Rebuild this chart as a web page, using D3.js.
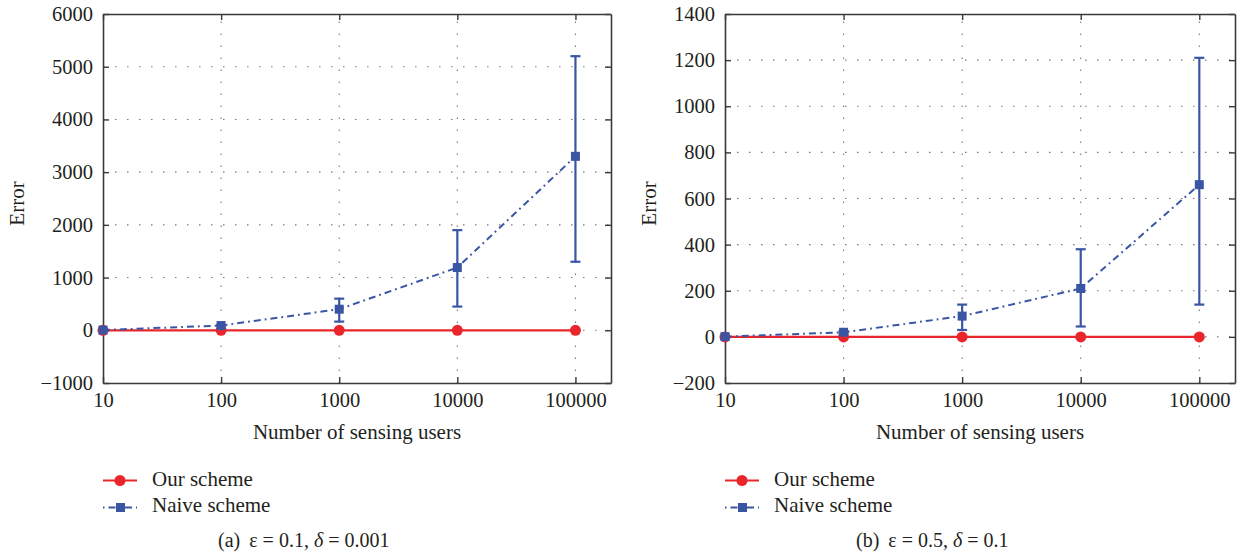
<!DOCTYPE html>
<html>
<head>
<meta charset="utf-8">
<script src="https://cdn.jsdelivr.net/npm/d3@7"></script>
<style>
  body { margin: 0; background: #fff; }
  svg text { font-family: "Liberation Serif", "Times New Roman", serif; fill: #231f20; }
</style>
</head>
<body>
<script>
'use strict';

// x positions (number of sensing users)
const users = [10, 100, 1000, 10000, 100000];

// panel (a) eps = 0.1, delta = 0.001
const ourA = [0, 0, 0, 0, 0];
const naiveA = [5, 90, 400, 1190, 3300];
const naiveLowA = [5, 80, 165, 450, 1300];
const naiveHighA = [5, 100, 600, 1900, 5200];
const yTicksA = [-1000, 0, 1000, 2000, 3000, 4000, 5000, 6000];

// panel (b) eps = 0.5, delta = 0.1
const ourB = [0, 0, 0, 0, 0];
const naiveB = [1, 20, 90, 210, 660];
const naiveLowB = [1, 15, 30, 45, 140];
const naiveHighB = [1, 25, 140, 380, 1210];
const yTicksB = [-200, 0, 200, 400, 600, 800, 1000, 1200, 1400];

const red = "#e8262b";
const blue = "#3a55a4";
const fontSize = "21px";

let svg = d3.select("body").append("svg")
  .attr("width", 1244)
  .attr("height", 556);

drawPanel({
  left: 103, right: 611, top: 14, bottom: 383,
  our: ourA, naive: naiveA, low: naiveLowA, high: naiveHighA,
  yTicks: yTicksA, yLabelX: 18, caption: ["(a)", "0.1", "0.001"], captionX: 218
});

drawPanel({
  left: 725, right: 1235, top: 14, bottom: 383,
  our: ourB, naive: naiveB, low: naiveLowB, high: naiveHighB,
  yTicks: yTicksB, yLabelX: 650, caption: ["(b)", "0.5", "0.1"], captionX: 856
});

function fmt(d) {
  return d < 0 ? "\u2212" + Math.abs(d) : String(d);
}

function drawPanel(p) {
  let g = svg.append("g");

  let x = d3.scaleLog()
    .domain([10, 200000])
    .range([p.left, p.right]);

  let y = d3.scaleLinear()
    .domain([p.yTicks[0], p.yTicks[p.yTicks.length - 1]])
    .range([p.bottom, p.top]);

  // dotted grid
  g.selectAll(".hgrid")
    .data(p.yTicks.slice(1, -1))
    .enter().append("line")
    .attr("x1", p.left).attr("x2", p.right)
    .attr("y1", d => y(d)).attr("y2", d => y(d))
    .attr("stroke", "#777")
    .attr("stroke-width", 1.1)
    .attr("stroke-dasharray", "1.5,10.5");

  g.selectAll(".vgrid")
    .data(users.slice(1))
    .enter().append("line")
    .attr("x1", d => x(d)).attr("x2", d => x(d))
    .attr("y1", p.bottom).attr("y2", p.top)
    .attr("stroke", "#777")
    .attr("stroke-width", 1.1)
    .attr("stroke-dasharray", "1.5,10.5");

  // axes with inward ticks
  let xAxis = d3.axisBottom(x)
    .tickValues(users)
    .tickFormat(d3.format("d"))
    .tickSizeInner(-6)
    .tickSizeOuter(0)
    .tickPadding(9);
  let xg = g.append("g")
    .attr("transform", "translate(0," + p.bottom + ")")
    .call(xAxis);

  let xTop = d3.axisTop(x)
    .tickValues(users)
    .tickFormat("")
    .tickSizeInner(-6)
    .tickSizeOuter(0);
  let xtg = g.append("g")
    .attr("transform", "translate(0," + p.top + ")")
    .call(xTop);

  let yAxis = d3.axisLeft(y)
    .tickValues(p.yTicks)
    .tickFormat(fmt)
    .tickSizeInner(-6)
    .tickSizeOuter(0)
    .tickPadding(10);
  let yg = g.append("g")
    .attr("transform", "translate(" + p.left + ",0)")
    .call(yAxis);

  let yRight = d3.axisRight(y)
    .tickValues(p.yTicks)
    .tickFormat("")
    .tickSizeInner(-6)
    .tickSizeOuter(0);
  let yrg = g.append("g")
    .attr("transform", "translate(" + p.right + ",0)")
    .call(yRight);

  [xg, xtg, yg, yrg].forEach(a => {
    a.select(".domain").attr("stroke", "#3a3a3a").attr("stroke-width", 1.6);
    a.selectAll(".tick line").attr("stroke", "#3a3a3a").attr("stroke-width", 1.4);
    a.selectAll(".tick text")
      .style("font-family", "'Liberation Serif', serif")
      .style("font-size", "20.5px")
      .attr("fill", "#231f20");
  });

  // error bars for naive scheme
  let capW = 5;
  users.forEach((u, i) => {
    if (p.high[i] - p.low[i] < 15 * (p.yTicks[1] - p.yTicks[0]) / 1000) return;
    let cx = x(u);
    g.append("line")
      .attr("x1", cx).attr("x2", cx)
      .attr("y1", y(p.low[i])).attr("y2", y(p.high[i]))
      .attr("stroke", blue).attr("stroke-width", 2.2);
    [p.low[i], p.high[i]].forEach(v => {
      g.append("line")
        .attr("x1", cx - capW).attr("x2", cx + capW)
        .attr("y1", y(v)).attr("y2", y(v))
        .attr("stroke", blue).attr("stroke-width", 2.2);
    });
  });

  let line = d3.line()
    .x((d, i) => x(users[i]))
    .y(d => y(d));

  // our scheme
  g.append("path")
    .datum(p.our)
    .attr("d", line)
    .attr("fill", "none")
    .attr("stroke", red)
    .attr("stroke-width", 2.2);

  g.selectAll(".ourDot")
    .data(p.our)
    .enter().append("circle")
    .attr("cx", (d, i) => x(users[i]))
    .attr("cy", d => y(d))
    .attr("r", 5.5)
    .attr("fill", red);

  // naive scheme
  g.append("path")
    .datum(p.naive)
    .attr("d", line)
    .attr("fill", "none")
    .attr("stroke", blue)
    .attr("stroke-width", 2)
    .attr("stroke-dasharray", "7,4,1.8,4");

  g.selectAll(".naiveSq")
    .data(p.naive)
    .enter().append("rect")
    .attr("x", (d, i) => x(users[i]) - 4.5)
    .attr("y", d => y(d) - 4.5)
    .attr("width", 9)
    .attr("height", 9)
    .attr("fill", blue);

  // axis titles
  g.append("text")
    .attr("transform", "translate(" + (p.yLabelX + 6) + "," + ((p.top + p.bottom) / 2 + 5) + ")rotate(-90)")
    .attr("text-anchor", "middle")
    .style("font-size", fontSize)
    .text("Error");

  g.append("text")
    .attr("x", (p.left + p.right) / 2)
    .attr("y", 439)
    .attr("text-anchor", "middle")
    .style("font-size", fontSize)
    .text("Number of sensing users");

  // legend
  let lx = p.left;
  g.append("line")
    .attr("x1", lx).attr("x2", lx + 34)
    .attr("y1", 480.5).attr("y2", 480.5)
    .attr("stroke", red).attr("stroke-width", 2.2);
  g.append("circle")
    .attr("cx", lx + 17).attr("cy", 480.5).attr("r", 5.5)
    .attr("fill", red);
  g.append("text")
    .attr("x", lx + 49).attr("y", 486)
    .style("font-size", fontSize)
    .text("Our scheme");

  g.append("line")
    .attr("x1", lx).attr("x2", lx + 34)
    .attr("y1", 507.5).attr("y2", 507.5)
    .attr("stroke", blue).attr("stroke-width", 2)
    .attr("stroke-dasharray", "1.5,4,7,4");
  g.append("rect")
    .attr("x", lx + 13).attr("y", 503)
    .attr("width", 9).attr("height", 9)
    .attr("fill", blue);
  g.append("text")
    .attr("x", lx + 49).attr("y", 512)
    .style("font-size", fontSize)
    .text("Naive scheme");

  // caption
  let cap = g.append("text")
    .attr("x", p.captionX)
    .attr("y", 547)
    .style("font-size", "20px");
  cap.append("tspan").text(p.caption[0]);
  cap.append("tspan").attr("dx", 9).text("\u03b5");
  cap.append("tspan").text(" = " + p.caption[1] + ", ");
  cap.append("tspan").style("font-style", "italic").text("\u03b4");
  cap.append("tspan").text(" = " + p.caption[2]);
}
</script>
</body>
</html>
